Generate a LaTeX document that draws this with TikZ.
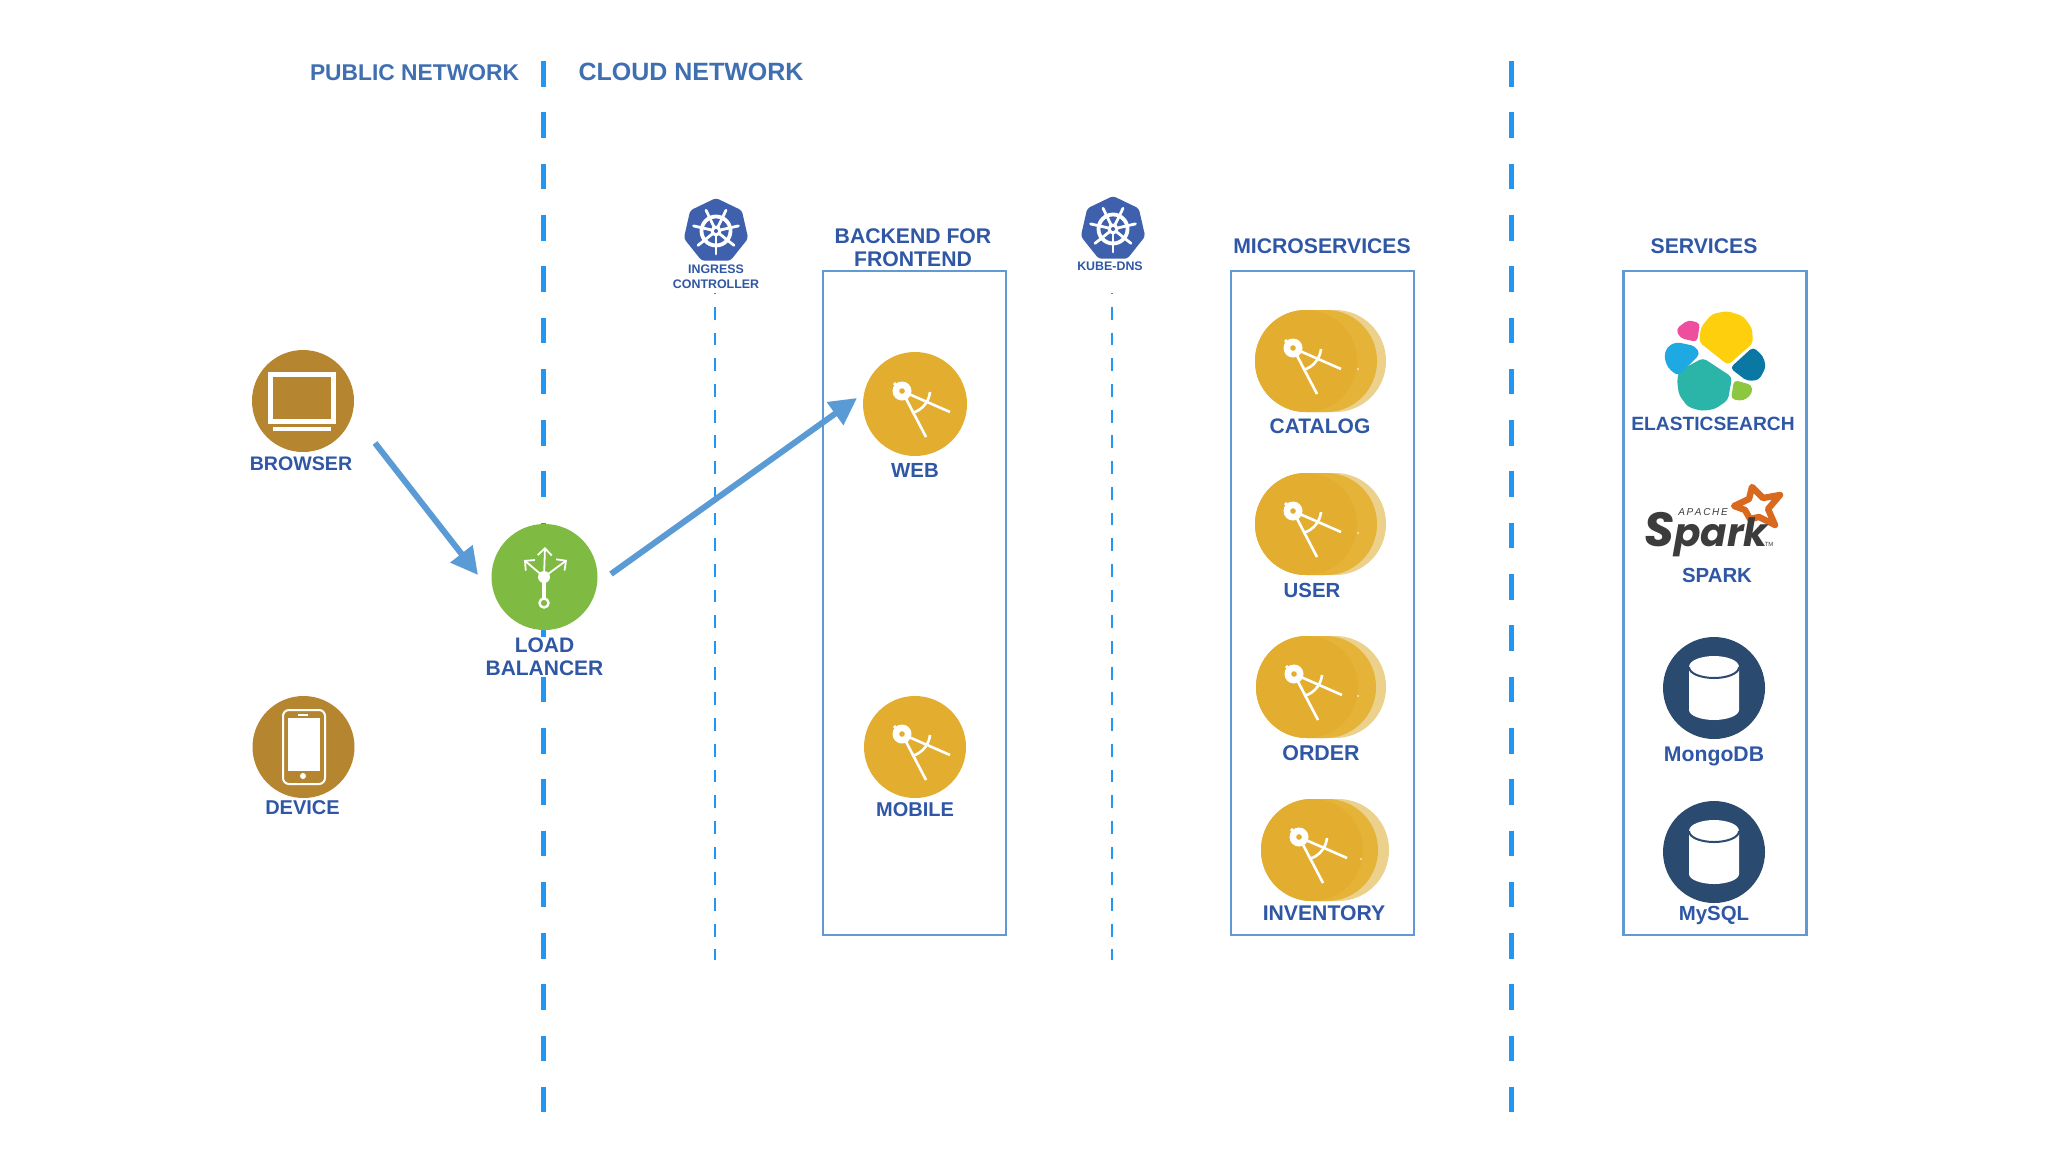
\documentclass[tikz,border=0pt]{standalone}
\usepackage{fontspec}
\setmainfont{Liberation Sans}
\newfontfamily\sparkfont{Poppins}
\usetikzlibrary{positioning,arrows.meta,shapes.geometric}
\definecolor{netblue}{HTML}{2196F3}
\definecolor{headblue}{HTML}{3F6FB0}
\definecolor{textblue}{HTML}{2F57A5}
\definecolor{boxblue}{HTML}{6099D3}
\definecolor{arrowblue}{HTML}{5B9BD5}
\definecolor{brown}{HTML}{B5862F}
\definecolor{lbgreen}{HTML}{7FBA42}
\definecolor{gold}{HTML}{E3AE2F}
\definecolor{goldmid}{HTML}{E5B338}
\definecolor{goldback}{HTML}{EBD18C}
\definecolor{navy}{HTML}{2A4A70}
\definecolor{kubeblue}{HTML}{3E60AD}
\definecolor{sparkgray}{HTML}{3C3C3C}
\definecolor{sparkorange}{HTML}{D9691E}
\definecolor{esyellow}{HTML}{FDCF0D}
\definecolor{esteal}{HTML}{2BB5A8}
\definecolor{esblue}{HTML}{1FA9E3}
\definecolor{espink}{HTML}{EE4E9E}
\definecolor{esdark}{HTML}{0B77A3}
\definecolor{esgreen}{HTML}{8DC63F}
\newcommand{\lblfont}[1]{\bfseries\fontsize{#1}{11.7}\selectfont}
\newcommand{\compassicon}[1]{
  \begin{scope}[shift={(#1)}]
    \draw[white,line width=1.3pt] (-13,-13) -- (11,33);
    \draw[white,line width=1.3pt] (-13,-13) -- (35,8);
    \draw[white,line width=1.3pt] (-3,9) .. controls (8,6) and (14,-3) .. (15,-12);
    \fill[white] (-13,-13) circle (9.5);
    \draw[white,line width=1.5pt] (-13,-13) -- (-21,-21);
    \fill[gold] (-13,-13) circle (2.8);
  \end{scope}}
\newcommand{\cylindericon}[1]{
  \begin{scope}[shift={(#1)}]
    \fill[white] (-25,-21) -- (-25,22) .. controls (-25,28) and (-12,32) .. (0,32) .. controls (12,32) and (25,28) .. (25,22) -- (25,-21) .. controls (25,-28) and (12,-32) .. (0,-32) .. controls (-12,-32) and (-25,-28) .. (-25,-21) -- cycle;
    \draw[navy,line width=1pt] (-25,-21) .. controls (-25,-14) and (-12,-10) .. (0,-10) .. controls (12,-10) and (25,-14) .. (25,-21);
  \end{scope}}
\newcommand{\wheelicon}[1]{
  \begin{scope}[shift={(#1)}]
    \draw[white,line width=1.9pt] (0,0) circle (14.5);
    \foreach \spoke in {0,...,6}
      \draw[white,line width=1.4pt,line cap=round] (0,0) -- (90+\spoke*51.43:23);
    \fill[white] (0,0) circle (5.5);
    \fill[kubeblue] (0,0) circle (2);
  \end{scope}}
\begin{document}
\begin{tikzpicture}[x=0.5pt,y=-0.5pt]
\tikzstyle{main}=[circle, minimum size = 51pt, inner sep = 0pt]
\tikzstyle{pill}=[rectangle, rounded corners = 25.4pt, minimum height = 51pt, inner sep = 0pt]
\tikzstyle{kube}=[regular polygon, regular polygon sides = 7, minimum size = 33pt, inner sep = 0pt, fill = kubeblue, rounded corners = 1.5pt]
\tikzstyle{connect}=[-{Triangle[length=13.5pt,width=13.5pt]}, line width = 3pt, arrowblue]
\tikzstyle{netline}=[line width = 2.5pt, netblue, dash pattern = on 12.8pt off 12.85pt]
\tikzstyle{thinline}=[line width = 1.3pt, netblue, dash pattern = on 6.4pt off 6.45pt, dash phase = 5.65pt]
\tikzstyle{group}=[rectangle, draw = boxblue, line width = 1.3pt, inner sep = 0pt]
\tikzstyle{label}=[font = \lblfont{10.2}, textblue, align = center, inner sep = 1pt]
\tikzstyle{title}=[font = \lblfont{10.6}, textblue, align = center, inner sep = 0pt]
\tikzstyle{small}=[font = \bfseries\fontsize{6.2}{7.4}\selectfont, textblue, align = center, inner sep = 0pt]
\useasboundingbox (0,0) rectangle (2048,1152);
  \fill[white] (0,0) rectangle (2048,1152);

  \coordinate (publictop) at (543,61);
  \coordinate (publicend) at (543,1112);
  \coordinate (cloudtop) at (1511,61);
  \coordinate (cloudend) at (1511,1112);
  \coordinate (ingresstop) at (715,292.5);
  \coordinate (ingressend) at (715,960);
  \coordinate (dnstop) at (1112,292.5);
  \coordinate (dnsend) at (1112,960);
  \draw[netline] (publictop) -- (publicend);
  \draw[netline] (cloudtop) -- (cloudend);
  \draw[thinline] (ingresstop) -- (ingressend);
  \draw[thinline] (dnstop) -- (dnsend);

  \node[label,font=\lblfont{11.4},headblue] (Public) at (414.5,73) {PUBLIC NETWORK};
  \node[label,font=\lblfont{12.5},headblue] (Cloud) at (691,72) {CLOUD NETWORK};

  \node[group,minimum width=91.5pt,minimum height=332pt] (Backend) at (914.5,603) {};
  \node[group,minimum width=91.5pt,minimum height=332pt] (Micro) at (1322.5,603) {};
  \node[group,minimum width=91.5pt,minimum height=332pt] (Services) at (1715,603) {};
  \node[title] (BackendTitle) at (913,247.5) {BACKEND FOR\\FRONTEND};
  \node[title] (MicroTitle) at (1322,246.5) {MICROSERVICES};
  \node[title] (ServicesTitle) at (1704,246.5) {SERVICES};

  \node[kube] (ingress) at (716,231) {};
  \node[kube] (dns) at (1113,229) {};
  \wheelicon{ingress}
  \wheelicon{dns}
  \node[small,fill=white,inner sep=1pt] (IngressLabel) at (716,276.5) {INGRESS\\CONTROLLER};
  \node[small,fill=white,inner sep=1pt] (DnsLabel) at (1110,266) {KUBE-DNS};

  \node[main,fill=brown] (browser) at (303,401) {};
  \node[main,fill=brown] (device) at (303.5,747) {};
  \node[main,fill=lbgreen,minimum size=53pt] (lb) at (544.5,577) {};
  \node[label,font=\lblfont{9.8}] (BrowserLabel) [below=1pt of browser,xshift=-1pt] {BROWSER};
  \node[label,font=\lblfont{10}] (DeviceLabel) [below=-0.25pt of device,xshift=-0.5pt] {DEVICE};
  \node[label,fill=white,font=\lblfont{10.5},inner ysep=0.5pt] (LbLabel) [below=3pt of lb] {LOAD\\BALANCER};

  \draw[white,line width=2.5pt,fill=brown] (270.5,374.5) rectangle (333.5,421.5);
  \fill[white] (273,427) rectangle (331,431);
  \draw[white,line width=1pt,rounded corners=3pt] (283,710) rectangle (325,784);
  \fill[white] (288,718) rectangle (320,771);
  \fill[white] (303,776) circle (3);
  \draw[white,line width=0.7pt] (298,715) -- (308,715);

  \draw[white,line width=2.2pt] (544,603) -- (544,577);
  \fill[white] (544,577) circle (6);
  \draw[white,line width=1.2pt,fill=lbgreen] (544,603) circle (4.5);
  \draw[white,line width=0.9pt,-{Straight Barb[length=3.5pt,width=7pt]}] (544,577) -- (545,547);
  \draw[white,line width=0.9pt,-{Straight Barb[length=3.5pt,width=7pt]}] (544,577) -- (524,560);
  \draw[white,line width=0.9pt,-{Straight Barb[length=3.5pt,width=7pt]}] (544,577) -- (567,560);

  \node[main,fill=gold,minimum size=52pt] (web) at (915,404) {};
  \node[main,fill=gold] (mobile) at (915,747) {};
  \compassicon{web}
  \compassicon{mobile}
  \node[label] (WebLabel) [below=2.5pt of web] {WEB};
  \node[label,font=\lblfont{10}] (MobileLabel) [below=1pt of mobile] {MOBILE};

  \node[pill,fill=goldback,minimum width=65.5pt] (catalogback) at (1320.5,361) {};
  \node[pill,fill=goldmid,minimum width=61pt] (catalogmid) at (1316,361) {};
  \node[main,fill=gold] (catalog) at (1306,361) {};
  \node[pill,fill=goldback,minimum width=65.5pt] (userback) at (1320.5,524) {};
  \node[pill,fill=goldmid,minimum width=61pt] (usermid) at (1316,524) {};
  \node[main,fill=gold] (user) at (1306,524) {};
  \node[pill,fill=goldback,minimum width=65pt] (orderback) at (1321,687) {};
  \node[pill,fill=goldmid,minimum width=60pt] (ordermid) at (1316,687) {};
  \node[main,fill=gold] (order) at (1307,687) {};
  \node[pill,fill=goldback,minimum width=64pt] (inventoryback) at (1325,850) {};
  \node[pill,fill=goldmid,minimum width=58.5pt] (inventorymid) at (1319.5,850) {};
  \node[main,fill=gold] (inventory) at (1312,850) {};
  \compassicon{catalog}
  \compassicon{user}
  \compassicon{order}
  \compassicon{inventory}
  \fill[white!70!gold] (1358,369) circle (1.2);
  \fill[white!70!gold] (1358,533) circle (1.2);
  \fill[white!70!gold] (1358,696) circle (1.2);
  \fill[white!70!gold] (1361,859) circle (1.2);
  \node[label,font=\lblfont{10.5}] (CatalogLabel) [below=2pt of catalog,xshift=7pt] {CATALOG};
  \node[label] (UserLabel) [below=2.5pt of user,xshift=3pt] {USER};
  \node[label,font=\lblfont{10.7}] (OrderLabel) [below=2.5pt of order,xshift=7pt] {ORDER};
  \node[label,font=\lblfont{10.6}] (InventoryLabel) [below=1pt of inventory,xshift=6pt] {INVENTORY};

  \fill[esyellow,rounded corners=2pt] (1699,342) -- (1701,327) -- (1712,314) -- (1727,311) -- (1743,316) -- (1752,328) -- (1753,343) -- (1728,365) -- cycle;
  \fill[esteal,rounded corners=2pt] (1703,358) -- (1732,377) -- (1728,400) -- (1715,409) -- (1702,411) -- (1688,407) -- (1679,395) -- (1677,381) -- (1679,371) -- cycle;
  \fill[esblue,rounded corners=2pt] (1676,342) -- (1695,346) -- (1700,354) -- (1678,376) -- (1668,368) -- (1664,357) -- (1667,347) -- cycle;
  \fill[espink,rounded corners=2pt] (1688,320) -- (1700,323) -- (1697,342) -- (1680,338) -- (1676,329) -- cycle;
  \fill[esdark,rounded corners=2pt] (1753,347) -- (1763,356) -- (1766,367) -- (1759,380) -- (1747,381) -- (1730,368) -- cycle;
  \fill[esgreen,rounded corners=2pt] (1734,380) -- (1752,385) -- (1752,394) -- (1743,401) -- (1731,399) -- cycle;
  \node[label,font=\lblfont{9.6}] (ElasticLabel) at (1713,424) {ELASTICSEARCH};

  \draw[sparkorange,line width=3.2pt,line join=round,fill=white] (1752,487) -- (1763,498) -- (1780,495) -- (1768,509) -- (1775,525) -- (1759,517) -- (1750,519) -- (1745,510) -- (1734,506) -- (1749,499) -- cycle;
  \node[anchor=base,inner sep=0pt,text=sparkgray,font=\sparkfont\bfseries\itshape] (SparkLogo) at (1706,546) {\fontsize{24}{24}\selectfont S\fontsize{19.5}{19.5}\selectfont park};
  \node[inner sep=0pt,text=sparkgray,font=\itshape\fontsize{5}{5}\selectfont] (SparkApache) at (1703,512) {A\,P\,A\,C\,H\,E};
  \node[inner sep=0pt,text=sparkgray,font=\fontsize{3}{3}\selectfont] (SparkMark) at (1769,544) {TM};
  \node[label] (SparkLabel) at (1717,575) {SPARK};

  \node[main,fill=navy] (mongo) at (1714,688) {};
  \node[main,fill=navy] (mysql) at (1714,852) {};
  \cylindericon{mongo}
  \cylindericon{mysql}
  \node[label,font=\lblfont{10.6}] (MongoLabel) [below=2.5pt of mongo] {MongoDB};
  \node[label] (MysqlLabel) [below=0pt of mysql] {MySQL};

  \coordinate (browserout) at (375,443);
  \coordinate (lbin) at (478,575);
  \coordinate (lbout) at (611,574);
  \coordinate (webin) at (857,398);
  \path (browserout) edge [connect] (lbin);
  \path (lbout) edge [connect] (webin);

\end{tikzpicture}
\end{document}
